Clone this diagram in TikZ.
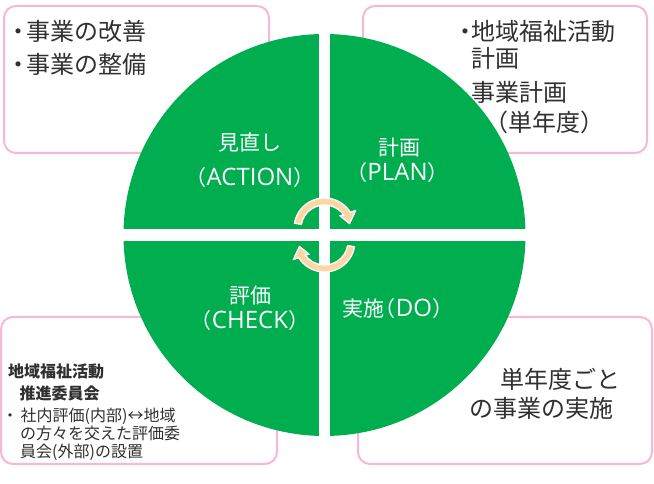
\documentclass[tikz,border=0pt]{standalone}
\usepackage{fontspec}
\newfontfamily\jp{Noto Sans CJK JP}
\newfontfamily\lat{Open Sans}
\definecolor{pdgreen}{HTML}{00AD4F}
\definecolor{pdpink}{HTML}{F7B7D7}
\definecolor{pdorange}{HTML}{FCD6A4}
\definecolor{pdtext}{HTML}{303030}
\tikzset{
  pinkbox/.style={draw=pdpink, line width=2pt, rounded corners=12pt, fill=white},
  blacktxt/.style={inner sep=0pt, anchor=west, text=pdtext, font=\jp\fontsize{24}{28}\selectfont},
  smalltxt/.style={inner sep=0pt, anchor=west, text=pdtext, font=\jp\fontsize{16}{19}\selectfont},
  whitetxt/.style={inner sep=0pt, text=white, font=\jp\fontsize{21}{25}\selectfont},
  cyclearrow/.style={fill=pdorange, draw=white, line width=1.3pt, line join=round}
}
\begin{document}
\begin{tikzpicture}[x=1pt,y=1pt]
\useasboundingbox (0,0) rectangle (654,484);
% boxes
\draw[pinkbox] (4,331) rectangle (269,478);
\draw[pinkbox] (363,331) rectangle (647,478);
\draw[pinkbox] (1,20) rectangle (277,167);
\draw[pinkbox] (358,20) rectangle (652,167);
% circle with white cross
\fill[pdgreen] (324.5,249) circle[radius=201pt];
\fill[white] (318.8,40) rectangle (330.2,460);
\fill[white] (115,243) rectangle (534,255);
% cycle arrows
\begin{scope}[shift={(324.5,255.5)}]
\path[cyclearrow] (170:30.5pt) arc[start angle=170, end angle=32, radius=30.5pt]
  -- (30:36pt) -- (11:25.5pt) -- (40:20pt) -- (34:23.5pt)
  arc[start angle=34, end angle=170, radius=23.5pt] -- cycle;
\end{scope}
\begin{scope}[shift={(324.5,242.5)}, rotate=180]
\path[cyclearrow] (170:30.5pt) arc[start angle=170, end angle=32, radius=30.5pt]
  -- (30:36pt) -- (11:25.5pt) -- (40:20pt) -- (34:23.5pt)
  arc[start angle=34, end angle=170, radius=23.5pt] -- cycle;
\end{scope}
% green labels
\node[whitetxt] (act1) at (249.5,341.3) {見直し};
\node[whitetxt] (act2) at (250,306.5) {（{\lat\fontsize{24}{28}\selectfont ACTION}）};
\node[whitetxt] (plan1) at (399,336.7) {計画};
\node[whitetxt] (plan2) at (397.5,311.7) {（{\lat\fontsize{24}{28}\selectfont PLAN}）};
\node[whitetxt] (chk1) at (250,188.3) {評価};
\node[whitetxt] (chk2) at (250,163.3) {（{\lat\fontsize{24}{28}\selectfont CHECK}）};
\node[whitetxt] (do1) at (398,175) {実施\kern-10pt（{\lat\fontsize{24}{28}\selectfont DO}）};
% top-left text
\node[blacktxt] (tl1) at (6,453) {・\kern-4pt 事業の改善};
\node[blacktxt] (tl2) at (6,419.5) {・\kern-4pt 事業の整備};
% top-right text
\node[blacktxt] (tr1) at (453,453) {・\kern-6pt 地域福祉活動};
\node[blacktxt] (tr2) at (471,425.7) {計画};
\node[blacktxt] (tr3) at (471,391.5) {事業計画};
\node[blacktxt] (tr4) at (484,361.5) {（単年度）};
% bottom-left text
\node[smalltxt, font=\jp\bfseries\fontsize{16}{19}\selectfont] (bl1) at (8,112.3) {地域福祉活動};
\node[smalltxt, font=\jp\bfseries\fontsize{16}{19}\selectfont] (bl2) at (19.5,90.7) {推進委員会};
\node[smalltxt] (bl3) at (2,68) {・\kern2.5pt 社内評価(内部)↔地域};
\node[smalltxt] (bl4) at (20,50.3) {の方々を交えた評価委};
\node[smalltxt] (bl5) at (20,32) {員会(外部)の設置};
% bottom-right text
\node[blacktxt] (br1) at (500,105) {単年度ごと};
\node[blacktxt] (br2) at (469,76) {の事業の実施};
\end{tikzpicture}
\end{document}
